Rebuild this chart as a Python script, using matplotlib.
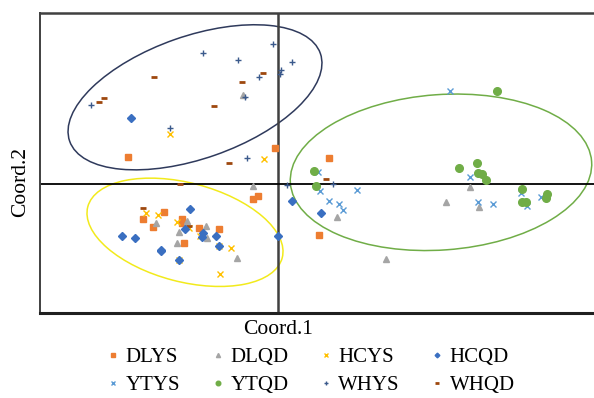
import matplotlib.pyplot as plt
from matplotlib.patches import Ellipse

plt.rcParams['font.family'] = ['Liberation Serif', 'DejaVu Serif']

# groups (Coord.1, Coord.2)
dlys_x = [-1.50, -0.03, 0.51, -1.14, -1.35, -1.25, -0.96, -0.96, -0.79, -0.59, -0.94, -0.25, -0.20, 0.41]
dlys_y = [0.27, 0.36, 0.26, -0.28, -0.35, -0.43, -0.35, -0.39, -0.44, -0.45, -0.59, -0.15, -0.12, -0.51]

dlqd_x = [-0.35, -0.25, -1.22, -0.91, -0.99, -0.72, -1.01, -0.71, -0.41, 0.59, 1.92, 1.68, 2.01, 1.08]
dlqd_y = [0.89, -0.02, -0.39, -0.37, -0.48, -0.42, -0.59, -0.54, -0.74, -0.33, -0.03, -0.18, -0.23, -0.75]

hcys_x = [-1.08, -0.14, -1.32, -1.20, -1.01, -0.89, -0.78, -0.47, -0.58, -0.99, -0.59]
hcys_y = [0.50, 0.25, -0.29, -0.31, -0.38, -0.44, -0.52, -0.64, -0.90, -0.76, -0.62]

hcqd_x = [-1.47, -0.88, -1.56, -1.43, -1.17, -1.17, -0.99, -0.93, -0.75, -0.76, -0.62, -0.59, 0.00, 0.14, 0.43]
hcqd_y = [0.66, -0.25, -0.52, -0.54, -0.66, -0.67, -0.76, -0.45, -0.49, -0.53, -0.52, -0.62, -0.52, -0.17, -0.29]

ytys_x = [0.40, 0.42, 0.79, 0.51, 0.61, 0.65, 1.72, 1.92, 2.00, 2.15, 2.43, 2.49, 2.63]
ytys_y = [0.12, -0.07, -0.06, -0.17, -0.20, -0.26, 0.93, 0.07, -0.18, -0.20, -0.09, -0.22, -0.13]

ytqd_x = [0.36, 0.38, 2.19, 1.81, 1.99, 2.00, 2.04, 2.08, 2.44, 2.44, 2.48, 2.69, 2.68]
ytqd_y = [0.13, -0.02, 0.93, 0.16, 0.21, 0.11, 0.10, 0.04, -0.05, -0.18, -0.18, -0.10, -0.14]

whys_x = [-0.05, -0.75, -0.40, 0.14, 0.03, 0.02, -0.19, -0.33, -1.87, -1.08, -0.31, 0.09, 0.55]
whys_y = [1.40, 1.31, 1.24, 1.22, 1.14, 1.10, 1.07, 0.87, 0.79, 0.56, 0.26, -0.01, 0.00]

whqd_x = [-1.24, -0.15, -0.36, -1.74, -1.79, -0.64, -0.49, -1.35, -0.89, -0.98, 0.48]
whqd_y = [1.07, 1.11, 1.02, 0.86, 0.82, 0.78, 0.21, -0.24, -0.42, 0.00, 0.05]

fig = plt.figure(figsize=(5.94, 3.98), dpi=100)
ax = fig.add_axes([39.5/594, (398-312.7)/398, (594-39.5)/594, (312.7-13.3)/398])
ax.set_xlim(-2.385, 3.16)
ax.set_ylim(-1.284, 1.71)

# confidence ellipses
ax.add_patch(Ellipse((-0.83, 0.87), 2.656, 1.224, angle=19.3, fill=False, ec='#2f3a5c', lw=1.1, zorder=1))
ax.add_patch(Ellipse((-0.93, -0.48), 2.01, 0.988, angle=-14.7, fill=False, ec='#f2ea1c', lw=1.1, zorder=1))
ax.add_patch(Ellipse((1.63, 0.12), 3.02, 1.554, angle=4.1, fill=False, ec='#70ad47', lw=1.1, zorder=1))

ax.axvline(0, color='#404040', lw=1.8, zorder=2)
ax.axhline(0, color='black', lw=1.3, zorder=2)

h = {}
h['DLYS'], = ax.plot(dlys_x, dlys_y, 's', ms=5, color='#ed7d31', ls='none', zorder=3)
h['DLQD'], = ax.plot(dlqd_x, dlqd_y, '^', ms=5, color='#a5a5a5', ls='none', zorder=3)
h['HCYS'], = ax.plot(hcys_x, hcys_y, 'x', ms=5, mew=1, color='#ffc000', ls='none', zorder=3)
h['HCQD'], = ax.plot(hcqd_x, hcqd_y, 'D', ms=4, color='#3a6fc1', ls='none', zorder=4)
h['YTYS'], = ax.plot(ytys_x, ytys_y, 'x', ms=5, mew=1, color='#5b9bd5', ls='none', zorder=3)
h['YTQD'], = ax.plot(ytqd_x, ytqd_y, 'o', ms=5.5, color='#70ad47', ls='none', zorder=3)
h['WHYS'], = ax.plot(whys_x, whys_y, '+', ms=5, mew=1, color='#3b5a8c', ls='none', zorder=3)
h['WHQD'], = ax.plot(whqd_x, whqd_y, '_', ms=4, mew=2, color='#9e480e', ls='none', zorder=3)

ax.set_xticks([])
ax.set_yticks([])
ax.spines['right'].set_visible(False)
ax.spines['top'].set_color('#404040')
ax.spines['top'].set_linewidth(1.8)
ax.spines['bottom'].set_color('#202020')
ax.spines['bottom'].set_linewidth(2.2)
ax.spines['left'].set_color('#404040')
ax.spines['left'].set_linewidth(1.4)

fig.text(278/594, 1 - 330/398, 'Coord.1', ha='center', va='center', fontsize=15.5)
fig.text(21/594, 1 - 182/398, 'Coord.2', ha='center', va='center', rotation=90, fontsize=15.5)

# legend fills column by column, so interleave the two rows
order = ['DLYS', 'YTYS', 'DLQD', 'YTQD', 'HCYS', 'WHYS', 'HCQD', 'WHQD']
fig.legend([h[k] for k in order], order, loc='center', bbox_to_anchor=(311/594, 1 - 371.5/398),
           ncol=4, frameon=False, fontsize=15, markerscale=0.6, handlelength=0.6,
           handletextpad=0.3, columnspacing=1.5, labelspacing=0.4)

fig.savefig('out.png', dpi=100)
